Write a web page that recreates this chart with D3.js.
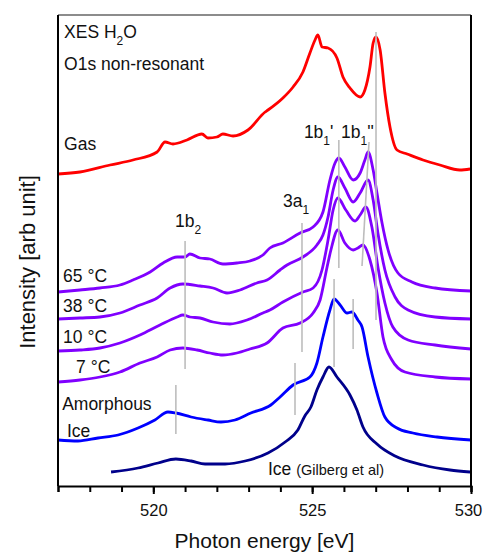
<!DOCTYPE html>
<html>
<head>
<meta charset="utf-8">
<script src="https://cdn.jsdelivr.net/npm/d3@7"></script>
<style>
  body { margin: 0; background: #fff; }
  text { font-family: 'Liberation Sans', Arial, sans-serif; }
</style>
</head>
<body>
<div id="drawing-area"></div>
<script>
// photon energy [eV] / intensity [arb. unit, offset included]
var gas = [
  [517.00, 31.2], [517.69, 31.4], [518.64, 32.1], [519.36, 32.6], [520.12, 33.4], [520.37, 34.4],
  [520.62, 34.2], [521.06, 34.6], [521.53, 35.2], [521.72, 34.8], [522.00, 34.9], [522.19, 35.2],
  [522.51, 35.0], [522.98, 35.6], [523.52, 37.4], [523.61, 37.6], [524.08, 38.8], [524.40, 39.9],
  [524.71, 41.4], [524.93, 43.3], [525.09, 44.6], [525.18, 45.1], [525.31, 43.9], [525.50, 43.8],
  [525.78, 42.8], [525.97, 40.9], [526.19, 39.8], [526.51, 38.9], [526.66, 39.6], [526.82, 41.9],
  [526.92, 44.3], [527.01, 44.9], [527.14, 43.6], [527.29, 39.3], [527.45, 35.9], [527.67, 33.6],
  [527.99, 33.2], [528.49, 32.6], [529.02, 32.1], [529.65, 31.6], [529.97, 31.7]
];
var liquid65 = [
  [517.00, 19.4], [517.69, 19.6], [518.32, 19.8], [518.95, 20.1], [519.36, 20.6], [519.90, 21.4],
  [520.31, 22.3], [520.75, 22.9], [521.00, 22.9], [521.15, 23.2], [521.47, 22.8], [521.78, 22.7],
  [522.19, 22.2], [522.63, 22.3], [523.04, 22.5], [523.45, 23.1], [523.67, 23.8], [524.08, 24.3],
  [524.62, 25.3], [525.03, 25.9], [525.34, 27.4], [525.56, 30.6], [525.72, 32.3], [525.84, 32.8],
  [526.03, 31.9], [526.29, 30.6], [526.51, 31.3], [526.66, 32.6], [526.76, 33.4], [526.92, 31.6],
  [527.04, 29.3], [527.20, 26.3], [527.39, 23.6], [527.70, 21.3], [528.14, 20.4], [528.87, 19.8],
  [530.00, 19.5]
];
var liquid38 = [
  [517.00, 16.7], [517.69, 16.8], [518.32, 16.9], [518.95, 17.3], [519.58, 18.1], [520.12, 18.8],
  [520.53, 19.8], [520.93, 20.2], [521.47, 20.0], [521.88, 19.8], [522.32, 19.3], [522.73, 19.6],
  [523.26, 20.3], [523.58, 20.6], [523.99, 21.6], [524.21, 22.1], [524.71, 22.9], [525.15, 24.1],
  [525.34, 25.1], [525.50, 26.9], [525.66, 29.6], [525.81, 30.9], [526.03, 29.8], [526.29, 28.4],
  [526.51, 29.3], [526.76, 30.6], [526.92, 28.6], [527.07, 25.3], [527.29, 21.6], [527.61, 18.9],
  [528.02, 17.6], [528.87, 16.9], [530.00, 16.7]
];
var liquid10 = [
  [517.00, 13.5], [517.69, 13.6], [518.32, 13.8], [518.95, 14.3], [519.58, 15.1], [520.21, 16.1],
  [520.75, 16.9], [520.93, 17.1], [521.15, 16.9], [521.47, 16.8], [521.88, 16.4], [522.41, 16.2],
  [522.95, 16.6], [523.45, 17.3], [523.67, 17.6], [524.08, 18.4], [524.71, 19.4], [525.03, 19.8],
  [525.31, 21.6], [525.50, 24.6], [525.66, 27.6], [525.81, 28.8], [526.06, 27.6], [526.35, 26.5],
  [526.51, 27.1], [526.69, 27.9], [526.88, 25.9], [527.07, 21.9], [527.29, 18.3], [527.54, 15.9],
  [528.02, 14.6], [528.87, 14.1], [530.00, 13.7]
];
var liquid7 = [
  [517.00, 10.4], [517.69, 10.6], [518.32, 10.9], [518.95, 11.4], [519.58, 12.3], [520.12, 12.9],
  [520.53, 13.6], [520.93, 13.8], [521.38, 13.6], [521.78, 13.3], [522.19, 13.1], [522.63, 13.3],
  [523.04, 13.7], [523.58, 14.3], [524.08, 15.8], [524.62, 16.3], [525.03, 17.3], [525.25, 18.6],
  [525.47, 21.9], [525.59, 23.6], [525.81, 25.6], [526.03, 24.3], [526.29, 23.6], [526.44, 23.8],
  [526.60, 24.1], [526.82, 22.6], [527.04, 19.3], [527.23, 14.9], [527.51, 12.6], [527.92, 11.4],
  [528.87, 10.9], [530.00, 10.7]
];
var amorphous = [
  [517.00, 4.6], [517.63, 4.5], [518.26, 4.8], [518.89, 5.1], [519.52, 5.8], [520.05, 6.6],
  [520.46, 7.4], [520.71, 7.3], [521.19, 6.9], [521.72, 6.6], [522.13, 6.4], [522.57, 6.6],
  [523.07, 7.3], [523.70, 8.1], [523.99, 8.9], [524.40, 10.1], [524.93, 10.9], [525.15, 12.3],
  [525.34, 14.9], [525.56, 17.6], [525.69, 18.7], [525.88, 18.1], [526.10, 17.3], [526.25, 17.4],
  [526.44, 16.6], [526.57, 15.9], [526.76, 12.9], [527.04, 9.3], [527.29, 6.9], [527.67, 5.8],
  [528.17, 5.3], [528.93, 4.9], [530.00, 4.6]
];
var iceGilberg = [
  [518.67, 1.4], [519.52, 1.8], [520.15, 2.3], [520.71, 2.7], [521.19, 2.5], [521.63, 2.2],
  [522.26, 2.2], [522.89, 2.5], [523.61, 3.3], [524.15, 4.4], [524.55, 5.6], [524.77, 7.0],
  [524.96, 7.9], [525.15, 9.6], [525.34, 10.9], [525.53, 11.9], [525.78, 10.9], [526.19, 9.1],
  [526.41, 7.6], [526.60, 5.9], [527.04, 4.2], [527.61, 3.0], [528.49, 2.1], [529.34, 1.6],
  [529.97, 1.4]
];

var seriesData = [gas, liquid65, liquid38, liquid10, liquid7, amorphous, iceGilberg];
var seriesColors = ['#ff0000', '#8000ff', '#8000ff', '#8000ff', '#8000ff', '#0000ff', '#00008b'];

// peak markers: [energy top, intensity top, energy bottom, intensity bottom]
var markers = [
  [521.00, 24.5, 521.00, 11.7],
  [520.71, 10.1, 520.71, 5.2],
  [524.68, 26.3, 524.68, 13.4],
  [524.46, 12.3, 524.46, 7.1],
  [525.84, 34.6, 525.84, 21.8],
  [526.79, 34.4, 526.57, 22.0],
  [527.01, 45.4, 527.01, 16.6],
  [525.69, 20.7, 525.69, 11.9],
  [526.29, 18.7, 526.29, 13.7]
];

// text labels: [energy, intensity, main, subscript, suffix]
var labels = [
  [517.19, 44.8, 'XES H', '2', 'O'],
  [517.19, 41.6, 'O1s non-resonant', '', ''],
  [517.19, 33.6, 'Gas', '', ''],
  [517.16, 20.4, '65 \u00b0C', '', ''],
  [517.16, 17.4, '38 \u00b0C', '', ''],
  [517.16, 14.3, '10 \u00b0C', '', ''],
  [517.57, 11.3, '7 \u00b0C', '', ''],
  [517.13, 7.6, 'Amorphous', '', ''],
  [517.28, 4.9, 'Ice', '', ''],
  [520.68, 25.9, '1b', '2', ''],
  [524.08, 27.9, '3a', '1', ''],
  [524.74, 34.8, '1b', '1', '\''],
  [525.91, 34.8, '1b', '1', '\'\'']
];

var minorTicks = [517, 518, 519, 520, 521, 522, 523, 524, 525, 526, 527, 528, 529, 530];
var majorTicks = [520, 525, 530];

(function () {
  var width = 484, height = 554;
  var margin = {top: 15, right: 13, bottom: 68, left: 58};

  var svg = d3.select('div#drawing-area').append('svg')
    .attr('width', width)
    .attr('height', height);

  var x = d3.scaleLinear().domain([517, 530]).range([margin.left, width - margin.right]);
  var y = d3.scaleLinear().domain([0, 47.1]).range([height - margin.bottom, margin.top]);

  var plot = svg.append('g');

  var line = d3.line()
    .x(function(d) { return x(d[0]); })
    .y(function(d) { return y(d[1]); })
    .curve(d3.curveMonotoneX);

  plot.selectAll('.spectrum')
    .data(seriesData)
    .enter().append('path')
    .attr('class', 'spectrum')
    .attr('d', line)
    .attr('fill', 'none')
    .attr('stroke', function(d, i) { return seriesColors[i]; })
    .attr('stroke-width', 2.8)
    .attr('stroke-linejoin', 'round');

  plot.selectAll('.marker')
    .data(markers)
    .enter().append('line')
    .attr('class', 'marker')
    .attr('x1', function(d) { return x(d[0]); })
    .attr('y1', function(d) { return y(d[1]); })
    .attr('x2', function(d) { return x(d[2]); })
    .attr('y2', function(d) { return y(d[3]); })
    .attr('stroke', '#bdbdbd')
    .attr('stroke-width', 1.6);

  var label = plot.selectAll('.label')
    .data(labels)
    .enter().append('text')
    .attr('class', 'label')
    .attr('x', function(d) { return x(d[0]); })
    .attr('y', function(d) { return y(d[1]); })
    .attr('font-size', 17.5)
    .attr('fill', '#111');
  label.append('tspan').text(function(d) { return d[2]; });
  label.append('tspan')
    .attr('font-size', 12)
    .attr('dy', 7)
    .text(function(d) { return d[3]; });
  label.append('tspan')
    .attr('dy', function(d) { return d[3] ? -7 : 0; })
    .text(function(d) { return d[4]; });

  var iceLabel = plot.append('text')
    .attr('x', x(523.61))
    .attr('y', y(1.1))
    .attr('font-size', 17.5)
    .attr('fill', '#111');
  iceLabel.append('tspan').text('Ice ');
  iceLabel.append('tspan').attr('font-size', 14.5).text('(Gilberg et al)');

  // frame
  svg.append('line')
    .attr('x1', margin.left).attr('x2', width - margin.right)
    .attr('y1', margin.top).attr('y2', margin.top)
    .attr('stroke', '#666').attr('stroke-width', 1.6);
  svg.append('line')
    .attr('x1', width - margin.right).attr('x2', width - margin.right)
    .attr('y1', margin.top).attr('y2', height - margin.bottom)
    .attr('stroke', '#000').attr('stroke-width', 2);
  svg.append('line')
    .attr('x1', margin.left).attr('x2', margin.left)
    .attr('y1', margin.top).attr('y2', height - margin.bottom)
    .attr('stroke', '#000').attr('stroke-width', 2);

  var minorAxis = svg.append('g')
    .attr('transform', 'translate(0,' + (height - margin.bottom) + ')')
    .call(d3.axisBottom(x).tickValues(minorTicks).tickSize(6).tickFormat(''));
  minorAxis.select('.domain').attr('stroke-width', 2);
  minorAxis.selectAll('.tick line').attr('stroke-width', 2);

  var majorAxis = svg.append('g')
    .attr('transform', 'translate(0,' + (height - margin.bottom) + ')')
    .call(d3.axisBottom(x).tickValues(majorTicks).tickSize(8).tickPadding(10).tickFormat(d3.format('d')));
  majorAxis.select('.domain').remove();
  majorAxis.selectAll('.tick line').attr('stroke-width', 2);
  majorAxis.selectAll('.tick text')
    .attr('font-size', 16.5)
    .attr('font-family', "'Liberation Sans', Arial, sans-serif")
    .attr('fill', '#111');
  // last label sits against the right edge
  majorAxis.selectAll('.tick text')
    .filter(function(d) { return d === 530; })
    .attr('dx', -3);

  svg.append('text')
    .attr('x', (margin.left + width - margin.right) / 2)
    .attr('y', 548)
    .attr('text-anchor', 'middle')
    .attr('font-size', 21)
    .attr('fill', '#111')
    .text('Photon energy [eV]');

  svg.append('text')
    .attr('transform', 'translate(35,262) rotate(-90)')
    .attr('text-anchor', 'middle')
    .attr('font-size', 22)
    .attr('fill', '#111')
    .text('Intensity [arb unit]');
})();
</script>
</body>
</html>
